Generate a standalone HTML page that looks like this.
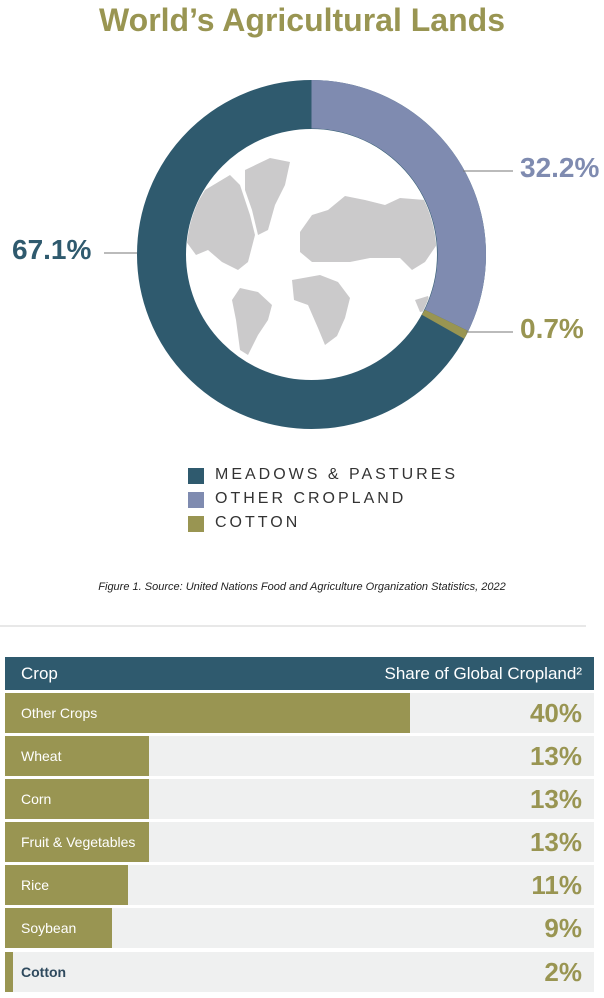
<!DOCTYPE html>
<html><head><style>
body{margin:0;width:604px;height:998px;background:#fff;font-family:"Liberation Sans",sans-serif;position:relative;overflow:hidden}
.a{position:absolute}
.row{position:absolute;left:5px;width:589px;height:40px;background:#eff0f0}
.bar{position:absolute;left:0;top:0;height:40px;background:#999552}
.lbl{position:absolute;left:16px;top:12px;font-size:14px;color:#fff}
.val{position:absolute;right:12px;top:5px;font-size:26px;font-weight:bold;color:#999552}
.leg{position:absolute;left:188px;width:16px;height:16px}
.lt{position:absolute;left:215px;font-size:16px;letter-spacing:3px;color:#333}
</style></head><body>
<div class="a" style="left:0;width:604px;top:2px;text-align:center;font-size:32px;font-weight:bold;color:#999552">World’s Agricultural Lands</div>
<svg class="a" style="left:0;top:0" width="604" height="460">
<defs><clipPath id="c"><circle cx="311.5" cy="254.5" r="125"/></clipPath></defs>
<circle cx="311.5" cy="254.5" r="150" fill="none" stroke="#2f5a6e" stroke-width="49"/>
<path d="M311.5,80 A174.5,174.5 0 0 1 468.3,331.0 L424.8,309.8 A126,126 0 0 0 311.5,128.5Z" fill="#7f8bb0"/>
<path d="M468.3,331.0 A174.5,174.5 0 0 1 464.2,338.8 L421.8,314.8 A126,126 0 0 0 424.8,309.8Z" fill="#999552"/>
<g fill="#cbcacb" clip-path="url(#c)">
<path d="M190,215 L205,190 L230,175 L240,185 L250,215 L255,235 L248,262 L238,270 L222,262 L208,250 L196,255 L185,240 Z"/>
<path d="M245,170 L270,158 L290,162 L285,185 L275,205 L268,230 L258,235 L252,210 L245,190 Z"/>
<path d="M240,288 L258,292 L272,305 L268,320 L258,335 L248,355 L240,350 L236,320 L232,300 Z"/>
<path d="M300,232 L312,215 L328,210 L345,196 L365,200 L385,205 L400,198 L425,200 L440,215 L440,240 L425,262 L412,270 L400,258 L388,258 L370,258 L350,262 L330,262 L312,262 L300,252 Z"/>
<path d="M292,280 L320,275 L338,282 L350,298 L345,318 L337,336 L325,345 L318,328 L308,305 L294,300 Z"/>
<path d="M415,300 L428,296 L432,310 L420,312 Z"/>
</g>
<line x1="104" y1="253" x2="137" y2="253" stroke="#777" stroke-width="1"/>
<line x1="463" y1="171" x2="513" y2="171" stroke="#777" stroke-width="1"/>
<line x1="466" y1="332" x2="513" y2="332" stroke="#777" stroke-width="1"/>
</svg>
<div class="a" style="left:12px;top:234px;font-size:28px;font-weight:bold;color:#2f5a6e">67.1%</div>
<div class="a" style="left:520px;top:152px;font-size:28px;font-weight:bold;color:#7f8bb0">32.2%</div>
<div class="a" style="left:520px;top:313px;font-size:28px;font-weight:bold;color:#999552">0.7%</div>
<div class="leg" style="top:468px;background:#2f5a6e"></div><div class="lt" style="top:466px">MEADOWS &amp; PASTURES</div>
<div class="leg" style="top:492px;background:#7f8bb0"></div><div class="lt" style="top:490px">OTHER CROPLAND</div>
<div class="leg" style="top:516px;background:#999552"></div><div class="lt" style="top:514px">COTTON</div>
<div class="a" style="left:0;width:604px;top:581px;text-align:center;font-size:11px;font-style:italic;color:#222">Figure 1. Source: United Nations Food and Agriculture Organization Statistics, 2022</div>
<div class="a" style="left:0;width:586px;top:625px;height:2px;background:#e8e8e8"></div>
<div class="a" style="left:5px;width:589px;top:657px;height:33px;background:#2f5a6e;color:#fff;font-size:17px">
<span style="position:absolute;left:16px;top:7px">Crop</span><span style="position:absolute;right:12px;top:7px">Share of Global Cropland²</span></div>
<div class="row" style="top:693px"><div class="bar" style="width:405px"></div><div class="lbl">Other Crops</div><div class="val">40%</div></div>
<div class="row" style="top:736px"><div class="bar" style="width:144px"></div><div class="lbl">Wheat</div><div class="val">13%</div></div>
<div class="row" style="top:779px"><div class="bar" style="width:144px"></div><div class="lbl">Corn</div><div class="val">13%</div></div>
<div class="row" style="top:822px"><div class="bar" style="width:144px"></div><div class="lbl">Fruit &amp; Vegetables</div><div class="val">13%</div></div>
<div class="row" style="top:865px"><div class="bar" style="width:123px"></div><div class="lbl">Rice</div><div class="val">11%</div></div>
<div class="row" style="top:908px"><div class="bar" style="width:107px"></div><div class="lbl">Soybean</div><div class="val">9%</div></div>
<div class="row" style="top:952px"><div class="bar" style="width:8px"></div><div class="lbl" style="color:#2f4a5e;font-weight:bold">Cotton</div><div class="val">2%</div></div>
</body></html>
